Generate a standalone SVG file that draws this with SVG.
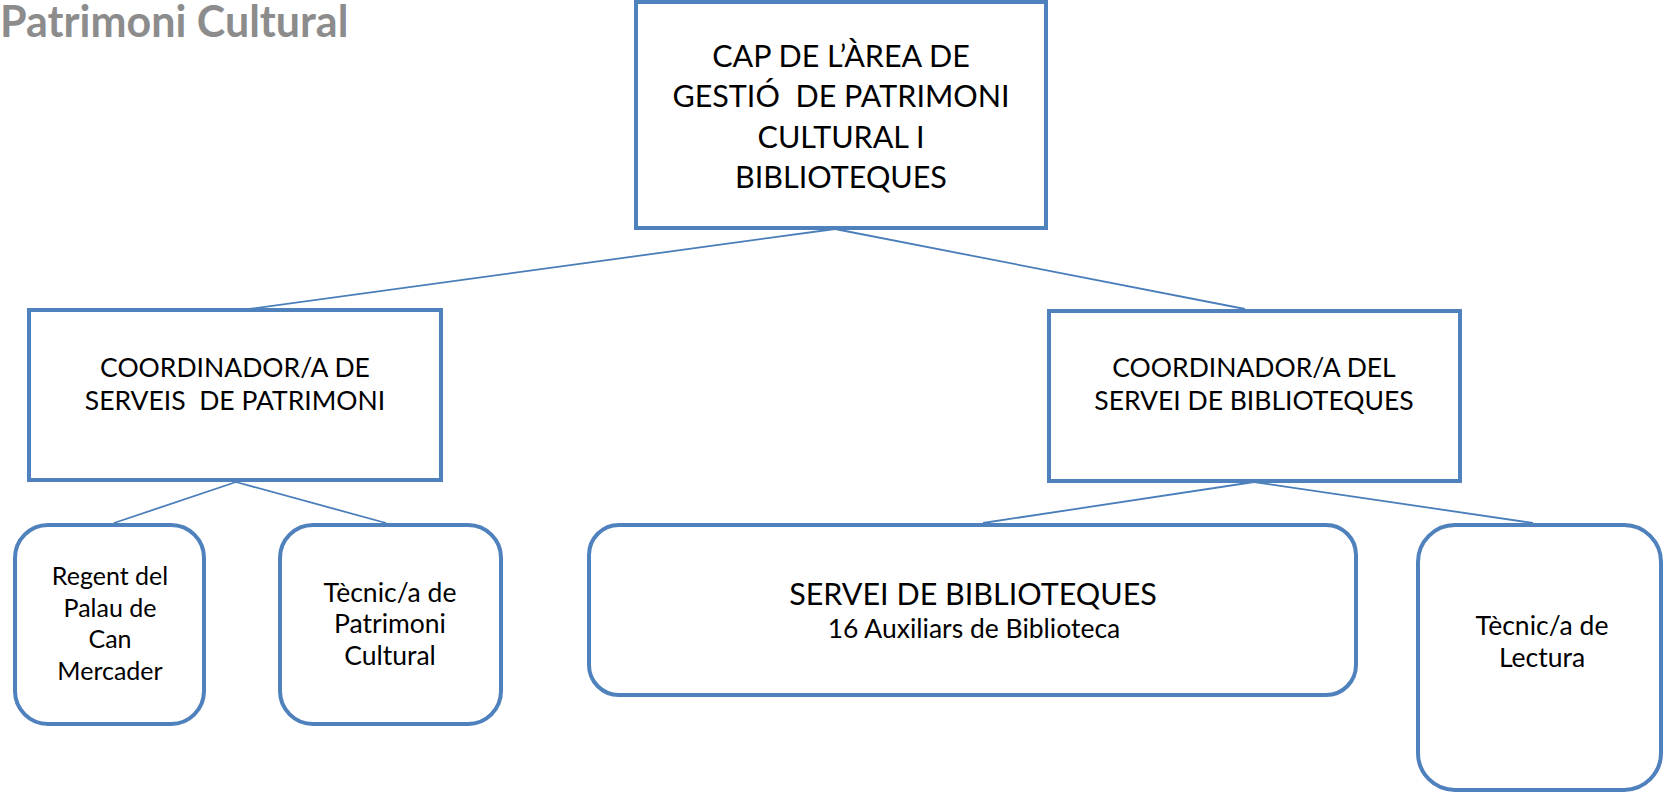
<svg xmlns="http://www.w3.org/2000/svg" width="1664" height="799" viewBox="0 0 1664 799">
<style>
  .box { fill: #ffffff; stroke: #4F81BD; stroke-width: 4; }
  .conn { stroke: #4A7EBB; stroke-width: 1.8; fill: none; }
  text { font-family: Lato, "Open Sans", sans-serif; fill: #000000; text-anchor: middle; white-space: pre; }
  .t1 { font-size: 30.5px; }
  .t2 { font-size: 26.5px; }
  .t3 { font-size: 25px; }
  .t4 { font-size: 26.5px; }
  .title { font-family: Lato, "Open Sans", sans-serif; font-weight: bold; font-size: 43px; fill: #8C8C8C; text-anchor: start; }
</style>
<rect x="0" y="0" width="1664" height="799" fill="#ffffff"/>
<text class="title" x="0" y="37">Patrimoni Cultural</text>
<g id="connectors">
  <line class="conn" x1="835" y1="229" x2="249" y2="309"/>
  <line class="conn" x1="835" y1="229" x2="1245" y2="309"/>
  <line class="conn" x1="236" y1="482" x2="114" y2="523"/>
  <line class="conn" x1="236" y1="482" x2="386" y2="523"/>
  <line class="conn" x1="1254" y1="482" x2="983" y2="523"/>
  <line class="conn" x1="1254" y1="482" x2="1533" y2="523"/>
</g>
<g id="cap">
  <rect class="box" x="636" y="2" width="410" height="226"/>
  <text class="t1" x="841" y="67">CAP DE L’ÀREA DE</text>
  <text class="t1" x="841" y="107">GESTIÓ  DE PATRIMONI</text>
  <text class="t1" x="841" y="148">CULTURAL I</text>
  <text class="t1" x="841" y="188">BIBLIOTEQUES</text>
</g>
<g id="coord-patrimoni">
  <rect class="box" x="29" y="310" width="412" height="170"/>
  <text class="t2" x="235" y="377">COORDINADOR/A DE</text>
  <text class="t2" x="235" y="410">SERVEIS  DE PATRIMONI</text>
</g>
<g id="coord-biblioteques">
  <rect class="box" x="1049" y="311" width="411" height="170"/>
  <text class="t2" x="1254" y="377">COORDINADOR/A DEL</text>
  <text class="t2" x="1254" y="410">SERVEI DE BIBLIOTEQUES</text>
</g>
<g id="regent">
  <rect class="box" x="15" y="525" width="189" height="199" rx="33" ry="33"/>
  <text class="t3" x="110" y="585">Regent del</text>
  <text class="t3" x="110" y="617">Palau de</text>
  <text class="t3" x="110" y="648">Can</text>
  <text class="t3" x="110" y="680">Mercader</text>
</g>
<g id="tecnic-patrimoni">
  <rect class="box" x="280" y="525" width="221" height="199" rx="33" ry="33"/>
  <text class="t4" x="390" y="602">Tècnic/a de</text>
  <text class="t4" x="390" y="633">Patrimoni</text>
  <text class="t4" x="390" y="665">Cultural</text>
</g>
<g id="servei-biblioteques">
  <rect class="box" x="589" y="525" width="767" height="170" rx="30" ry="30"/>
  <text class="t1" x="973" y="605">SERVEI DE BIBLIOTEQUES</text>
  <text style="font-size:26.5px" x="974" y="638">16 Auxiliars de Biblioteca</text>
</g>
<g id="tecnic-lectura">
  <rect class="box" x="1418" y="525" width="243" height="265" rx="37" ry="37"/>
  <text class="t4" x="1542" y="635">Tècnic/a de</text>
  <text class="t4" x="1542" y="667">Lectura</text>
</g>
</svg>
